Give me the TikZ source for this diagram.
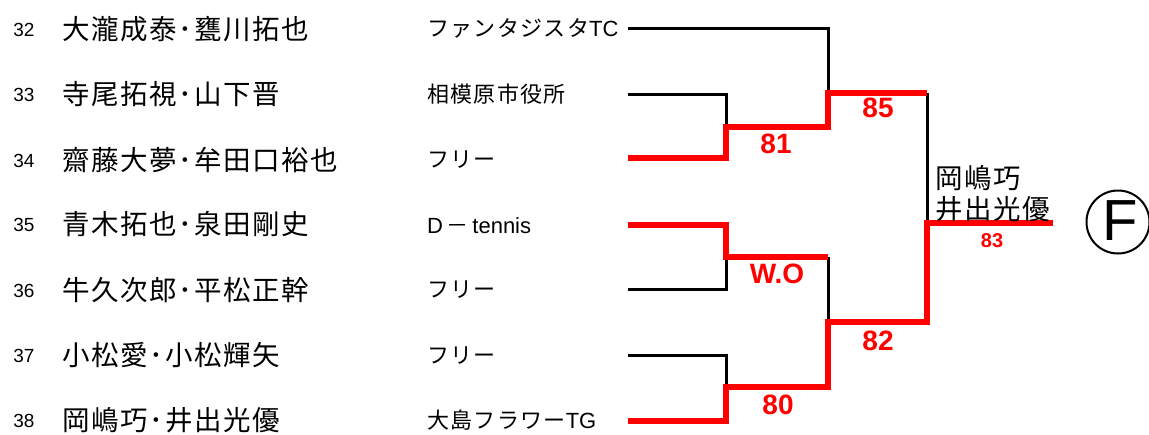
\documentclass[tikz,border=0pt]{standalone}
\usepackage{fontspec}
\setmainfont{Liberation Sans}
\newfontfamily\jpn[LetterSpace=6]{Noto Sans CJK JP}
\newcommand\lt[1]{{\rmfamily #1}}
\begin{document}
\begin{tikzpicture}[x=1pt,y=-1pt,
  numst/.style={font=\fontsize{19}{19}\selectfont, anchor=base, inner sep=0pt},
  namest/.style={font=\jpn\fontsize{27.5}{28}\selectfont, anchor=base west, inner sep=0pt},
  clubst/.style={font=\jpn\fontsize{22}{23}\selectfont, anchor=base west, inner sep=0pt},
  scorest/.style={font=\bfseries\fontsize{28}{28}\selectfont, text=red, anchor=center, inner sep=0pt},
  blk/.style={draw=black, line width=3pt, line join=miter},
  rd/.style={draw=red, line width=5.5pt, line join=miter}]
\useasboundingbox (0,0) rectangle (1149,434);
% rows
\foreach \i/\yc/\nm/\cl/\cy in {
  32/29/大瀧成泰･甕川拓也/{ファンタジスタ\lt{TC}}/28,
  33/94/寺尾拓視･山下晋/相模原市役所/94,
  34/160/齋藤大夢･牟田口裕也/フリー/159,
  35/224/青木拓也･泉田剛史/{\lt{D\,}－\lt{\,tennis}}/225,
  36/290/牛久次郎･平松正幹/フリー/289,
  37/355/小松愛･小松輝矢/フリー/355,
  38/420/岡嶋巧･井出光優/{大島フラワー\lt{TG}}/420} {
  \node[numst] (n\i) at (24,\yc+7) {\i};
  \node[namest] (p\i) at (62,\yc+10) {\nm};
  \node[clubst] (c\i) at (427,\cy+8.2) {\cl};
}
% line ends
\coordinate (e32) at (628,28);
\coordinate (e33) at (628,94);
\coordinate (e34) at (628,158);
\coordinate (e35) at (628,225);
\coordinate (e36) at (628,289);
\coordinate (e37) at (628,355);
\coordinate (e38) at (628,421);
\coordinate (a1) at (726,127);
\coordinate (a2) at (726,257);
\coordinate (a3) at (726,387);
\coordinate (b1) at (828,93);
\coordinate (b2) at (828,322);
\coordinate (f1) at (927,223);
\coordinate (fe) at (1053,223);
% black lines
\draw[blk] (e32) -| (b1);
\draw[blk] (e33) -| (a1);
\draw[blk] (e36) -| (a2);
\draw[blk] (e37) -| (a3);
\draw[blk] (a2 -| b1) -- (b2);
\draw[blk] (b1 -| f1) -- (f1);
% red lines
\draw[rd] (e34) -| (a1) -- (a1 -| b1) -- (b1) -- (b1 -| f1);
\draw[rd] (e35) -| (a2) -- (a2 -| b1);
\draw[rd] (e38) -| (a3) -- (a3 -| b2) -- (b2) -- (b2 -| f1) -- (f1) -- (fe);
% scores
\node[scorest] (s85) at (878,108) {85};
\node[scorest] (s81) at (776,143.5) {81};
\node[scorest] (swo) at (777,273.5) {W.O};
\node[scorest] (s80) at (778,405) {80};
\node[scorest] (s82) at (878,341) {82};
\node[scorest, font=\bfseries\fontsize{20}{20}\selectfont] (s83) at (992,241) {83};
% winner
\node[namest] (w1) at (935,178+10) {岡嶋巧};
\node[namest] (w2) at (935,209+10) {井出光優};
% final mark
\node[draw=black, line width=2pt, circle, minimum size=63pt, inner sep=0pt] (fin) at (1118,222) {};
\node[font=\fontsize{58}{58}\selectfont, inner sep=0pt] (finF) at (1120,221) {F};
\end{tikzpicture}
\end{document}
